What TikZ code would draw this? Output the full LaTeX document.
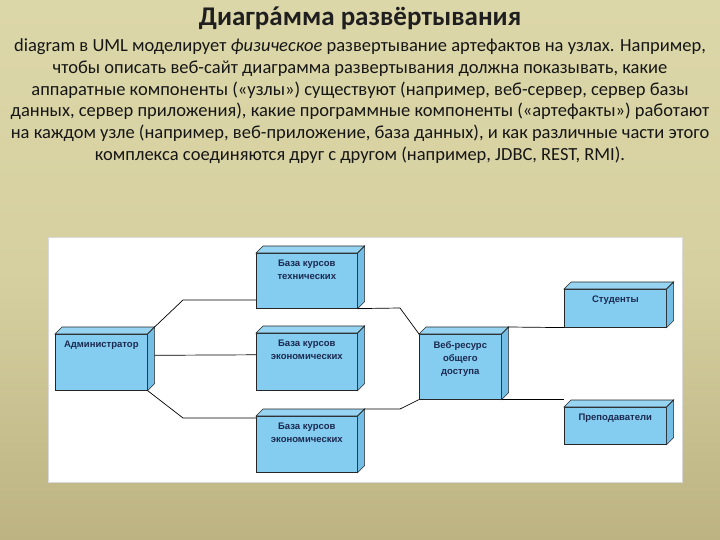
\documentclass[tikz,border=0pt]{standalone}
\usepackage{fontspec}
\setmainfont{Carlito}
\newfontfamily\boxfont{Liberation Sans}
\usetikzlibrary{calc}
\definecolor{bgtop}{HTML}{DCD7A9}
\definecolor{bgmid}{HTML}{D6D0A0}
\definecolor{bgbot}{HTML}{BDB382}
\definecolor{boxblue}{HTML}{84CCF0}
\definecolor{boxtop}{HTML}{96D4F2}
\definecolor{boxside}{HTML}{74BEE6}
\definecolor{boxtext}{HTML}{1C2A50}
\definecolor{bodytext}{HTML}{161616}
\tikzset{
  nodebox/.style={draw=black!85, line width=0.6pt, fill=boxblue, inner sep=0pt, anchor=north west},
  lbl/.style={font=\boxfont\bfseries\fontsize{9.5}{13}\selectfont, text=boxtext, align=center, inner sep=0pt, anchor=north},
  conn/.style={draw=black, line width=0.7pt},
  bodyline/.style={font=\fontsize{18.5}{22}\selectfont, text=bodytext, anchor=base, inner sep=0pt},
}
\newcommand{\boxdepth}[1]{%
  \fill[boxtop, draw=black!85, line width=0.6pt] (#1.north west) -- ++(7,-7) -- ($(#1.north east)+(7,-7)$) -- (#1.north east) -- cycle;
  \fill[boxside, draw=black!85, line width=0.6pt] (#1.north east) -- ++(7,-7) -- ($(#1.south east)+(7,-7)$) -- (#1.south east) -- cycle;
}
\newcommand{\accA}{\ooalign{а\cr\hidewidth´\hidewidth\cr}}
\begin{document}
\begin{tikzpicture}[x=1pt, y=-1pt]
\useasboundingbox (0,0) rectangle (720,540);
\shade[top color=bgtop, bottom color=bgbot, middle color=bgmid] (0,0) rectangle (720,540);
% title and body
\node[font=\bfseries\fontsize{27}{30}\selectfont, text=black!88, anchor=base, inner sep=0pt] (title) at (360,26) {Диагр\accA мма развёртывания};
\node[bodyline] (l1) at (360,52) {diagram в UML моделирует \textit{физическое} развертывание артефактов на узлах. Например,};
\node[bodyline] (l2) at (360,74) {чтобы описать веб-сайт диаграмма развертывания должна показывать, какие};
\node[bodyline] (l3) at (360,96) {аппаратные компоненты («узлы») существуют (например, веб-сервер, сервер базы};
\node[bodyline] (l4) at (360,117) {данных, сервер приложения), какие программные компоненты («артефакты») работают};
\node[bodyline] (l5) at (360,139) {на каждом узле (например, веб-приложение, база данных), и как различные части этого};
\node[bodyline] (l6) at (360,161) {комплекса соединяются друг с другом (например, JDBC, REST, RMI).};
% panel
\fill[white, draw=white!85!black, line width=0.5pt] (48,237) rectangle (682,482);
% boxes
\node[nodebox, minimum width=92pt, minimum height=56pt,
  label={[lbl, yshift=-7pt]north:Администратор}] (adm) at (55,334) {};
\node[nodebox, minimum width=101pt, minimum height=55pt,
  label={[lbl, yshift=-7pt]north:База курсов\\технических}] (tech) at (256,253) {};
\node[nodebox, minimum width=101pt, minimum height=57pt,
  label={[lbl, yshift=-7pt]north:База курсов\\экономических}] (mid) at (256,333) {};
\node[nodebox, minimum width=101pt, minimum height=56pt,
  label={[lbl, yshift=-7pt]north:База курсов\\экономических}] (bot) at (256,416) {};
\node[nodebox, minimum width=82pt, minimum height=65pt,
  label={[lbl, yshift=-7pt]north:Веб-ресурс\\общего\\доступа}] (web) at (419,334) {};
\node[nodebox, minimum width=102pt, minimum height=38pt,
  label={[lbl, yshift=-7pt]north:Студенты}] (stud) at (564,289) {};
\node[nodebox, minimum width=102pt, minimum height=37pt,
  label={[lbl, yshift=-7pt]north:Преподаватели}] (prep) at (564,407) {};
\boxdepth{adm}
\boxdepth{tech}
\boxdepth{mid}
\boxdepth{bot}
\boxdepth{web}
\boxdepth{stud}
\boxdepth{prep}
% connectors
\draw[conn] ($(adm.north east)+(7,-7)$) -- (183,300) -- (183,300 -| tech.west);
\draw[conn] ($(adm.east)+(7,-7)$) -- ($(mid.west)+(0,-7)$);
\draw[conn] (adm.south east) -- (183,418) -- (183,418 -| bot.west);
\draw[conn] (tech.south east) -- (400,308) -- (web.north west);
\draw[conn] ($(mid.east)+(7,-7)$) -- ($(mid.east)+(7,-7)$ -| web.west);
\draw[conn] ($(bot.north east)+(7,-7)$) -- (400,409) -- (web.south west);
\draw[conn] ($(web.north east)+(7,-7)$) -- (stud.south west);
\draw[conn] (web.south east) -- (web.south east -| prep.west);
\end{tikzpicture}
\end{document}
